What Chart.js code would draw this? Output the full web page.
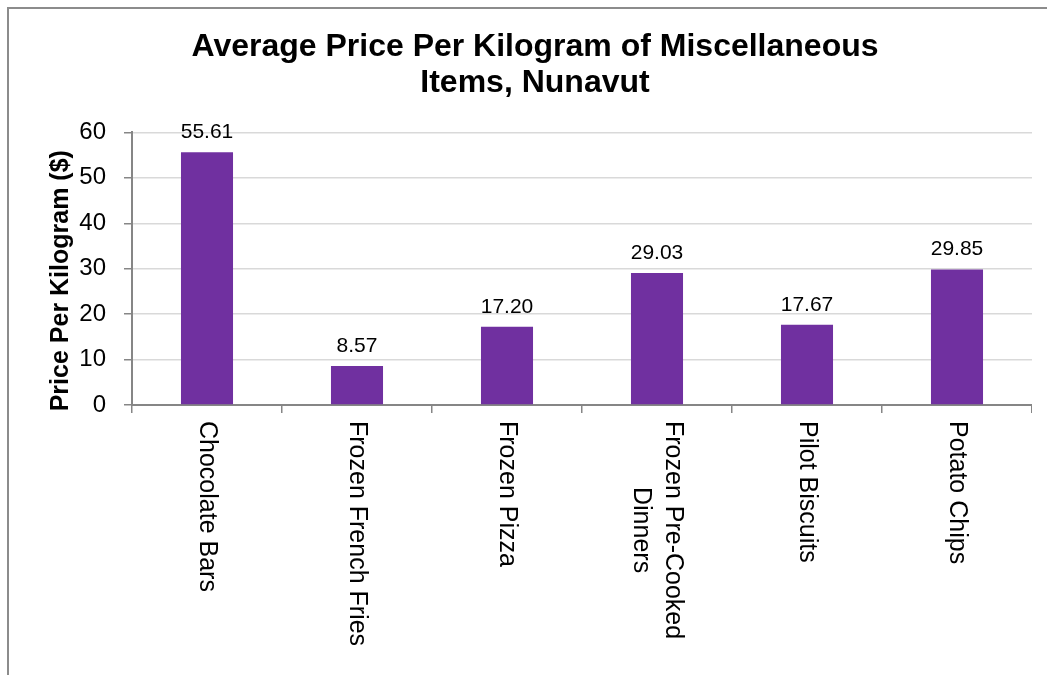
<!DOCTYPE html>
<html>
<head>
<meta charset="utf-8">
<title>Average Price Per Kilogram of Miscellaneous Items, Nunavut</title>
<script src="https://cdn.jsdelivr.net/npm/chart.js@4/dist/chart.umd.min.js"></script>
<style>
  html, body { margin: 0; padding: 0; background: #fff; overflow: hidden; }
  #frame {
    position: absolute; left: 7px; top: 7px;
    width: 1052px; height: 700px;
    border: 2px solid #8c8c8c;
    background: #fff;
  }
  #wrap { position: absolute; left: 0; top: 0; width: 1023px; height: 700px; }
</style>
</head>
<body>
<div id="frame"><div id="wrap"><canvas id="priceChart"></canvas></div></div>
<script>
var titleLines = ['Average Price Per Kilogram of Miscellaneous', 'Items, Nunavut'];
var categories = ['Chocolate Bars', 'Frozen French Fries', 'Frozen Pizza', ['Frozen Pre-Cooked', 'Dinners'], 'Pilot Biscuits', 'Potato Chips'];
var prices = [55.61, 8.57, 17.20, 29.03, 17.67, 29.85];
var yTitle = 'Price Per Kilogram ($)';
var yMin = 0, yMax = 60, yStep = 10;

var FONT = "'Liberation Sans', Arial, sans-serif";
var AXIS = '#868686';
var GRID = '#d9d9d9';

// value labels above bars, rotated category labels, y axis title
var labelsPlugin = {
    id: 'labels',
    afterDraw: function (chart) {
        var ctx = chart.ctx;
        var x = chart.scales.x;
        var area = chart.chartArea;

        ctx.save();
        ctx.fillStyle = '#000';
        ctx.font = '21px ' + FONT;
        ctx.textAlign = 'center';
        ctx.textBaseline = 'alphabetic';
        chart.getDatasetMeta(0).data.forEach(function (bar, i) {
            ctx.fillText(prices[i].toFixed(2), bar.x, bar.y - 14);
        });

        ctx.font = '25px ' + FONT;
        ctx.textBaseline = 'middle';
        categories.forEach(function (lab, i) {
            var lines = Array.isArray(lab) ? lab : [lab];
            var w = 0;
            lines.forEach(function (l) { w = Math.max(w, ctx.measureText(l).width); });
            ctx.save();
            ctx.translate(x.getPixelForValue(i), x.top + 16);
            ctx.rotate(Math.PI / 2);
            lines.forEach(function (l, j) {
                ctx.fillText(l, w / 2, (j - (lines.length - 1) / 2) * 32);
            });
            ctx.restore();
        });

        ctx.font = 'bold 25px ' + FONT;
        ctx.translate(52, (area.top + area.bottom) / 2 + 12);
        ctx.rotate(-Math.PI / 2);
        ctx.fillText(yTitle, 0, 0);
        ctx.restore();
    }
};

var chart = new Chart(document.getElementById('priceChart'), {
    type: 'bar',
    data: {
        labels: categories,
        datasets: [{
            data: prices,
            backgroundColor: '#7030a0',
            borderWidth: 0,
            categoryPercentage: 1,
            barPercentage: 0.347
        }]
    },
    options: {
        responsive: true,
        maintainAspectRatio: false,
        animation: false,
        layout: { padding: { left: 29, right: 0, top: 0, bottom: 0 } },
        plugins: {
            legend: { display: false },
            tooltip: { enabled: false },
            title: {
                display: true,
                text: titleLines,
                color: '#000',
                font: { family: FONT, size: 32, weight: 'bold', lineHeight: 1.1 },
                padding: { top: 21, bottom: 32 }
            }
        },
        scales: {
            x: {
                afterFit: function (s) { s.height = 304; },
                grid: {
                    drawOnChartArea: false,
                    tickLength: 8,
                    tickColor: AXIS,
                    lineWidth: 1.5
                },
                border: { color: AXIS, width: 2 },
                ticks: { display: false }
            },
            y: {
                min: yMin,
                max: yMax,
                afterFit: function (s) { s.width = 94; },
                grid: {
                    color: GRID,
                    lineWidth: 1.5,
                    tickLength: 8,
                    tickColor: AXIS
                },
                border: { color: AXIS, width: 2 },
                ticks: {
                    stepSize: yStep,
                    color: '#000',
                    padding: 18,
                    font: { family: FONT, size: 24 }
                }
            }
        }
    },
    plugins: [labelsPlugin]
});
</script>
</body>
</html>
